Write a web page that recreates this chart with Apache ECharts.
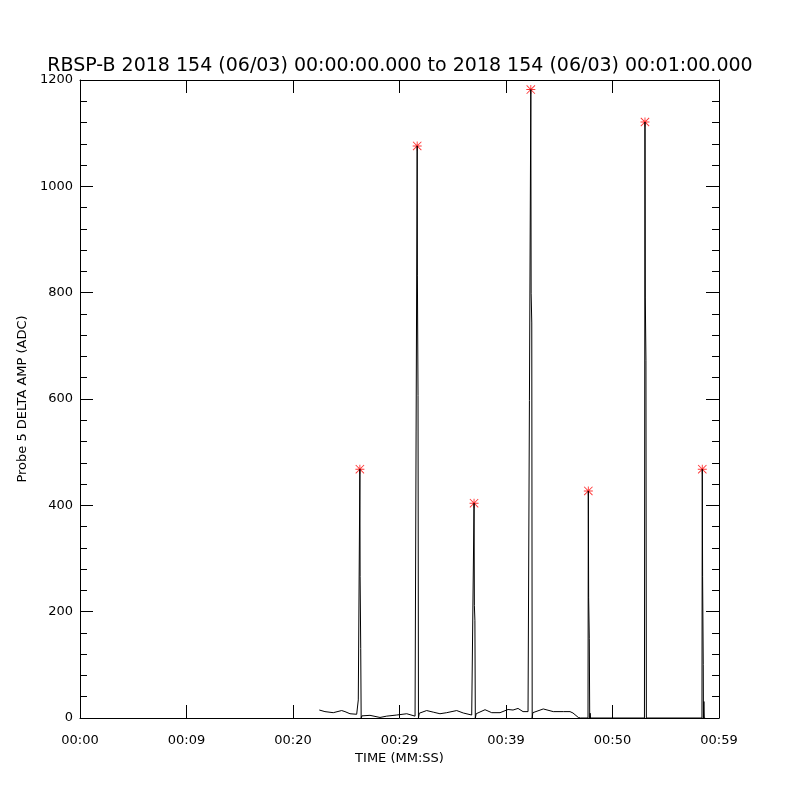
<!DOCTYPE html>
<html>
<head>
<meta charset="utf-8">
<script src="https://cdn.jsdelivr.net/npm/echarts@6/dist/echarts.min.js"></script>
<style>
html,body{margin:0;padding:0;background:#fff;}
#chart{width:800px;height:800px;}
</style>
</head>
<body>
<div id="chart"></div>
<script>
// Time in seconds after 00:00:00, amplitude in ADC
var lineTimes = [
  22.47, 23.00, 23.78, 24.57, 24.88, 25.35, 25.98, 26.13,
  26.28, 26.30, 26.36, 26.40, 26.47,
  26.60, 27.23, 28.17, 28.80, 29.74, 30.68, 31.46, 31.58,
  31.66, 31.68, 31.74, 31.78, 31.86,
  32.55, 33.17, 33.80, 34.43, 35.37, 35.99, 36.78,
  37.00, 37.03, 37.08, 37.12, 37.20,
  37.25, 38.03, 38.66, 39.44, 40.19, 40.66, 41.13, 41.60, 42.07,
  42.33, 42.36, 42.42, 42.46, 42.52,
  42.54, 43.50, 44.44, 45.38, 46.01, 46.29, 46.79, 47.00, 47.70,
  47.73, 47.76, 47.82, 47.86, 47.90, 47.94,
  53.00, 53.05, 53.08, 53.14, 53.18,
  58.40, 58.43, 58.46, 58.52, 58.54, 58.58, 58.62, 58.70
];
var lineValues = [
  15, 12, 10, 14, 12, 8, 7, 34,
  468, 266, 131, 0, 4,
  3.7, 5, 1, 3.5, 5.6, 8, 3.5, 3,
  1076, 833, 607, 0, 9,
  14, 11, 8, 10, 14, 9.4, 5.6,
  404, 212, 184, 0, 8,
  8, 15.6, 10, 10, 16, 15, 18, 12, 12,
  1182, 799, 743, 0, 10,
  12, 17, 12, 12, 12, 9.4, 1, 0, 0,
  427, 226, 150, 0, 9, 0,
  0, 1121, 790, 673, 0,
  0, 468, 266, 101, 0, 31, 0, 0
];
var peakTimes = [26.28, 31.66, 37.00, 42.33, 47.73, 53.05, 58.43];
var peakValues = [468, 1076, 404, 1182, 427, 1121, 468];
var xTickLabels = ['00:00', '00:09', '00:20', '00:29', '00:39', '00:50', '00:59'];

var lineData = lineTimes.map(function (t, i) { return [t, lineValues[i]]; });
var peakData = peakTimes.map(function (t, i) { return [t, peakValues[i]]; });

var starPath = 'path://M4.5 0 H5.5 V10 H4.5 Z M0 4.5 H10 V5.5 H0 Z M0.7 0 L10 9.3 L9.3 10 L0 0.7 Z M9.3 0 L10 0.7 L0.7 10 L0 9.3 Z';
var font = 'DejaVu Sans';
var axisLineStyle = { color: '#000', width: 1 };

var chart = echarts.init(document.getElementById('chart'), null, { renderer: 'canvas' });
chart.setOption({
  animation: false,
  backgroundColor: '#fff',
  title: {
    text: 'RBSP-B 2018 154 (06/03) 00:00:00.000 to 2018 154 (06/03) 00:01:00.000',
    left: 'center',
    top: 52,
    textStyle: { fontFamily: font, fontSize: 19, fontWeight: 'normal', color: '#000' }
  },
  grid: { left: 80, right: 81, top: 80, bottom: 82, show: false },
  xAxis: [{
    type: 'value', position: 'bottom', min: 0, max: 60, interval: 10,
    name: 'TIME (MM:SS)', nameLocation: 'middle', nameGap: 32,
    nameTextStyle: { fontFamily: font, fontSize: 13, color: '#000' },
    axisLine: { show: true, onZero: false, lineStyle: axisLineStyle },
    axisTick: { show: true, inside: true, length: 13, lineStyle: axisLineStyle },
    axisLabel: {
      show: true, margin: 16, fontFamily: font, fontSize: 13, color: '#000',
      formatter: function (v) { return xTickLabels[Math.round(v / 10)]; }
    },
    splitLine: { show: false }
  }, {
    type: 'value', position: 'top', min: 0, max: 60, interval: 10,
    axisLine: { show: true, onZero: false, lineStyle: axisLineStyle },
    axisTick: { show: true, inside: true, length: 13, lineStyle: axisLineStyle },
    axisLabel: { show: false },
    splitLine: { show: false }
  }],
  yAxis: [{
    type: 'value', position: 'left', min: 0, max: 1200, interval: 200,
    name: 'Probe 5 DELTA AMP (ADC)', nameLocation: 'middle', nameGap: 42,
    nameTextStyle: { fontFamily: font, fontSize: 13, color: '#000' },
    axisLine: { show: true, onZero: false, lineStyle: axisLineStyle },
    axisTick: { show: true, inside: true, length: 13, lineStyle: axisLineStyle },
    minorTick: { show: true, splitNumber: 5, length: 7, lineStyle: axisLineStyle },
    axisLabel: {
      show: true, margin: 7, fontFamily: font, fontSize: 13, color: '#000',
      formatter: function (v) { return String(v); }
    },
    splitLine: { show: false },
    minorSplitLine: { show: false }
  }, {
    type: 'value', position: 'right', min: 0, max: 1200, interval: 200,
    axisLine: { show: true, onZero: false, lineStyle: axisLineStyle },
    axisTick: { show: true, inside: true, length: 13, lineStyle: axisLineStyle },
    minorTick: { show: true, splitNumber: 5, length: 7, lineStyle: axisLineStyle },
    axisLabel: { show: false },
    splitLine: { show: false }
  }],
  series: [{
    type: 'line',
    data: lineData,
    xAxisIndex: 0, yAxisIndex: 0,
    showSymbol: false,
    symbol: 'none',
    lineStyle: { color: '#000', width: 1 },
    silent: true
  }, {
    type: 'scatter',
    data: peakData,
    xAxisIndex: 0, yAxisIndex: 0,
    symbol: starPath,
    symbolSize: 9,
    itemStyle: { color: '#ff0000' },
    silent: true
  }]
});
</script>
</body>
</html>
